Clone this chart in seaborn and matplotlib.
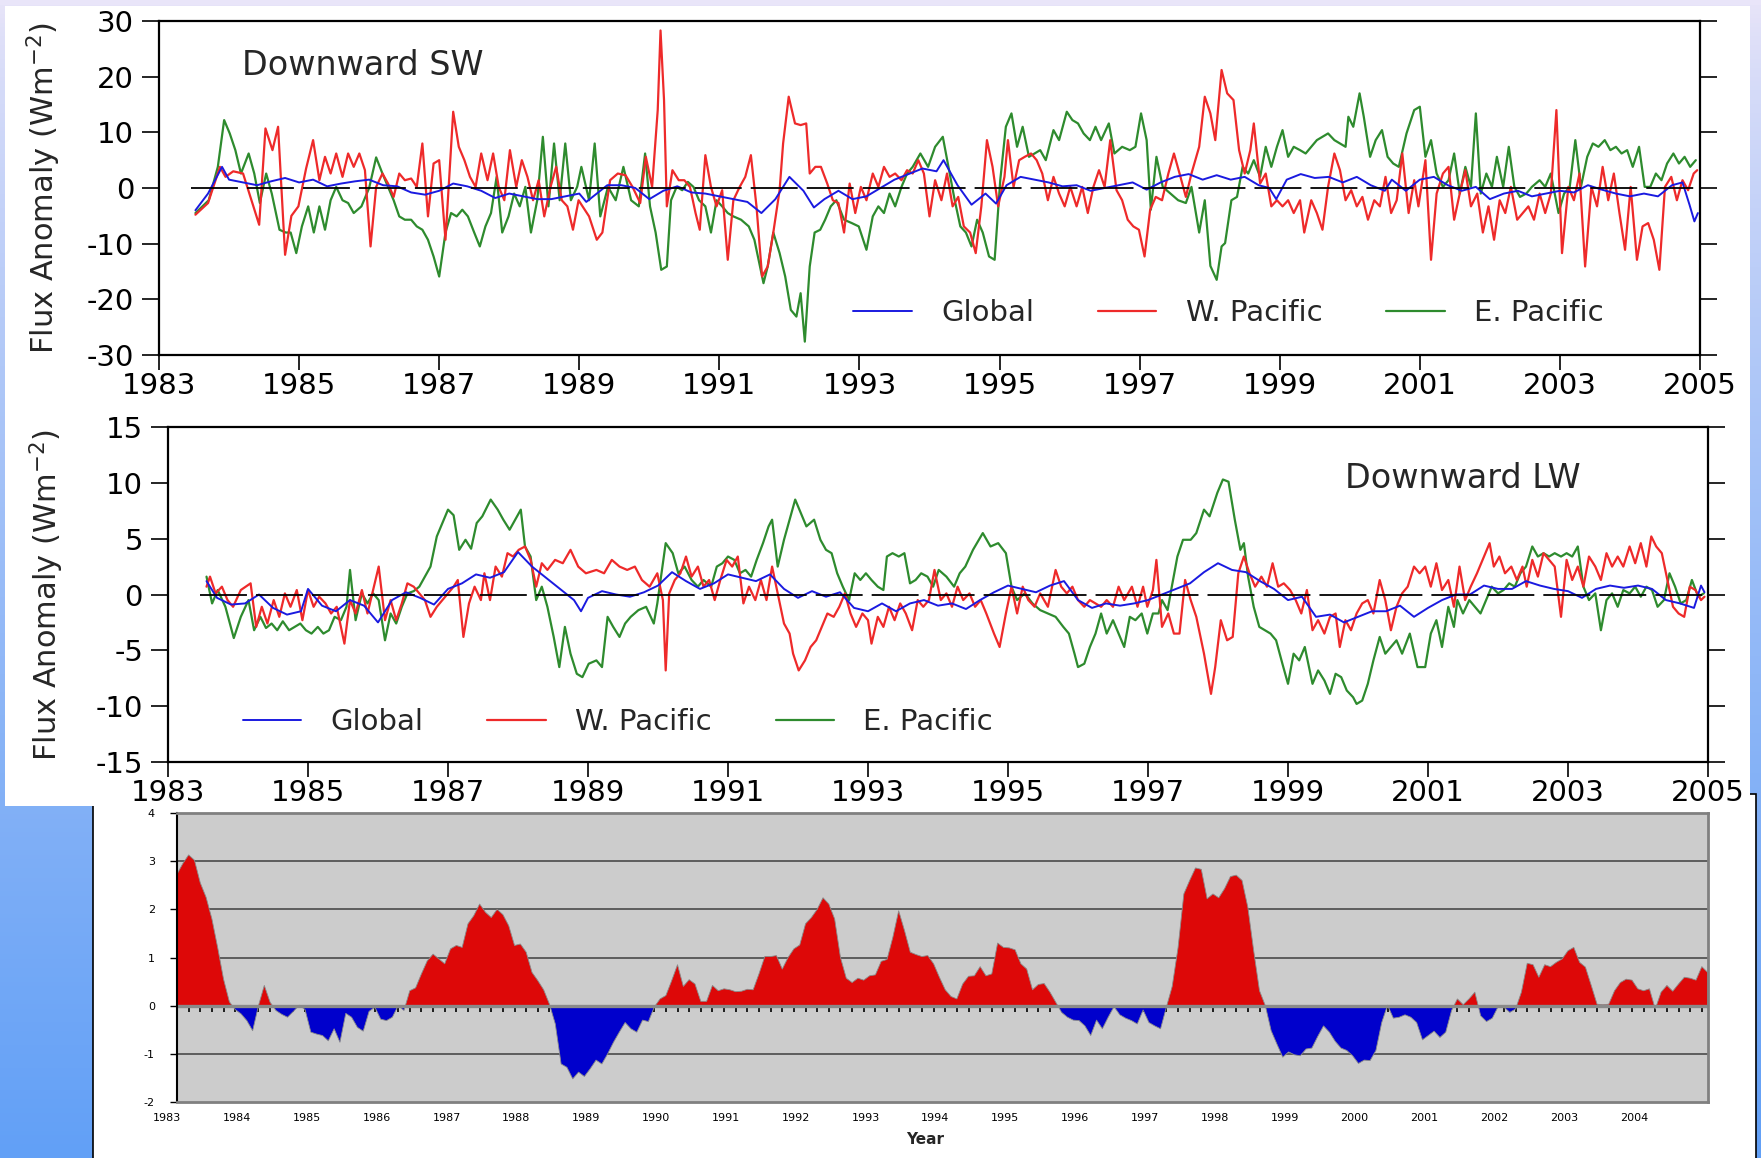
import numpy as np
import matplotlib
matplotlib.use("Agg")
import matplotlib.pyplot as plt
import seaborn as sns
from matplotlib.patches import Rectangle
from matplotlib.ticker import MultipleLocator
from matplotlib.transforms import blended_transform_factory

# ---------------- DATA ----------------
years_sw_ticks = list(range(1983, 2006, 2))
series_names = ["Global", "W. Pacific", "E. Pacific"]

# Downward SW flux anomaly (W m-2)
sw_glob_t = [1983.52, 1983.7, 1983.9, 1984.0, 1984.2, 1984.4, 1984.6, 1984.8, 1985.0, 1985.2, 1985.4, 1985.6, 1985.8,
             1986.0, 1986.2, 1986.4, 1986.6, 1986.8, 1987.0, 1987.2, 1987.4, 1987.6, 1987.8, 1988.0, 1988.2, 1988.4,
             1988.6, 1988.8, 1989.0, 1989.1, 1989.2, 1989.4, 1989.6, 1989.8, 1990.0, 1990.2, 1990.4, 1990.6, 1990.8,
             1991.0, 1991.2, 1991.4, 1991.6, 1991.8, 1992.0, 1992.2, 1992.35, 1992.5, 1992.7, 1992.9, 1993.1, 1993.3,
             1993.5, 1993.7, 1993.9, 1994.1, 1994.2, 1994.4, 1994.6, 1994.8, 1994.95, 1995.1, 1995.3, 1995.5, 1995.7,
             1995.9, 1996.1, 1996.3, 1996.5, 1996.7, 1996.9, 1997.1, 1997.3, 1997.5, 1997.7, 1997.9, 1998.1, 1998.3,
             1998.5, 1998.7, 1998.85, 1998.95, 1999.1, 1999.3, 1999.5, 1999.7, 1999.9, 2000.1, 2000.3, 2000.5, 2000.6,
             2000.8, 2001.0, 2001.2, 2001.4, 2001.6, 2001.8, 2002.0, 2002.2, 2002.4, 2002.6, 2002.8, 2003.0, 2003.2,
             2003.4, 2003.6, 2003.8, 2004.0, 2004.2, 2004.4, 2004.6, 2004.75, 2004.85, 2004.92, 2004.97]
sw_glob_v = [-4.0, -1.0, 3.8, 1.5, 1.0, 0.5, 1.2, 1.8, 1.0, 1.5, 0.3, 0.8, 1.2,
             1.5, 0.5, 0.3, -0.8, -1.2, -0.5, 0.8, 0.3, -0.5, -1.8, -1.0, -1.5, -2.0,
             -2.0, -1.5, -1.0, -2.5, -1.5, 0.5, 0.5, 0.0, -2.0, -0.5, 0.3, -0.8, -1.0,
             -1.5, -2.0, -2.5, -4.5, -2.0, 2.0, -0.5, -3.5, -2.0, -0.5, -2.0, -1.5, 0.0,
             1.5, 2.5, 3.5, 3.0, 5.0, 0.5, -3.0, -1.0, -2.8, 0.5, 2.0, 1.5, 1.0,
             0.3, 0.5, -0.5, 0.0, 0.5, 1.0, -0.3, 1.0, 2.0, 2.5, 1.5, 2.3, 1.5,
             2.0, 0.5, 0.0, -2.0, 1.5, 2.5, 1.8, 2.0, 1.0, 2.0, 0.5, -0.5, 1.5,
             -0.5, 1.5, 2.0, 0.5, -0.5, 0.2, -2.0, -1.0, -0.5, -1.5, -1.0, -0.5, -0.8,
             0.5, -0.3, -1.0, -1.5, -1.0, -1.5, 0.5, 1.0, -3.0, -6.0, -4.5]

sw_wpac_t = [1983.52, 1983.70, 1983.87, 1983.95, 1984.06, 1984.20, 1984.43, 1984.52, 1984.62, 1984.70, 1984.80, 1984.89,
             1984.99, 1985.10, 1985.20, 1985.29, 1985.37, 1985.45, 1985.53, 1985.62, 1985.70, 1985.78, 1985.86, 1985.94,
             1986.02, 1986.10, 1986.19, 1986.27, 1986.35, 1986.43, 1986.51, 1986.60, 1986.68, 1986.76, 1986.84, 1986.92,
             1987.00, 1987.09, 1987.20, 1987.28, 1987.36, 1987.44, 1987.52, 1987.60, 1987.69, 1987.77, 1987.85, 1987.93,
             1988.01, 1988.10, 1988.18, 1988.26, 1988.34, 1988.42, 1988.50, 1988.59, 1988.67, 1988.75, 1988.83, 1988.91,
             1988.99, 1989.14, 1989.25, 1989.33, 1989.44, 1989.55, 1989.66, 1989.76, 1989.87, 1989.95, 1990.04, 1990.12,
             1990.16, 1990.21, 1990.25, 1990.33, 1990.42, 1990.50, 1990.58, 1990.66, 1990.72, 1990.80, 1990.88, 1990.96,
             1991.04, 1991.12, 1991.20, 1991.29, 1991.37, 1991.45, 1991.53, 1991.61, 1991.69, 1991.77, 1991.86, 1991.91,
             1991.99, 1992.08, 1992.16, 1992.24, 1992.29, 1992.37, 1992.45, 1992.54, 1992.62, 1992.70, 1992.78, 1992.86,
             1992.94, 1993.02, 1993.10, 1993.19, 1993.27, 1993.35, 1993.43, 1993.51, 1993.60, 1993.68, 1993.76, 1993.84,
             1993.92, 1994.00, 1994.08, 1994.17, 1994.25, 1994.33, 1994.41, 1994.49, 1994.58, 1994.66, 1994.74, 1994.82,
             1994.90, 1994.98, 1995.07, 1995.12, 1995.20, 1995.28, 1995.36, 1995.45, 1995.53, 1995.61, 1995.69, 1995.77,
             1995.85, 1995.93, 1996.01, 1996.10, 1996.18, 1996.26, 1996.34, 1996.42, 1996.50, 1996.58, 1996.67, 1996.75,
             1996.83, 1996.91, 1996.99, 1997.07, 1997.15, 1997.23, 1997.32, 1997.41, 1997.49, 1997.57, 1997.66, 1997.74,
             1997.85, 1997.93, 1998.01, 1998.08, 1998.17, 1998.25, 1998.34, 1998.42, 1998.50, 1998.58, 1998.63, 1998.72,
             1998.80, 1998.88, 1998.96, 1999.04, 1999.12, 1999.20, 1999.29, 1999.35, 1999.45, 1999.53, 1999.61, 1999.69,
             1999.78, 1999.86, 1999.94, 2000.02, 2000.10, 2000.18, 2000.26, 2000.35, 2000.43, 2000.51, 2000.59, 2000.67,
             2000.75, 2000.84, 2000.92, 2000.98, 2001.08, 2001.16, 2001.24, 2001.33, 2001.41, 2001.49, 2001.57, 2001.65,
             2001.73, 2001.82, 2001.90, 2001.98, 2002.06, 2002.14, 2002.22, 2002.30, 2002.39, 2002.47, 2002.55, 2002.63,
             2002.71, 2002.79, 2002.87, 2002.95, 2003.03, 2003.12, 2003.20, 2003.28, 2003.36, 2003.45, 2003.53, 2003.61,
             2003.69, 2003.77, 2003.85, 2003.93, 2004.01, 2004.10, 2004.18, 2004.26, 2004.34, 2004.42, 2004.50, 2004.59,
             2004.67, 2004.75, 2004.83, 2004.91, 2004.96]
sw_wpac_v = [-4.8, -2.7, 3.8, 2.0, 3.0, 2.6, -6.6, 10.7, 6.8, 11.0, -12.0, -5.0,
             -3.3, 3.5, 8.6, 1.4, 5.6, 2.6, 6.2, 2.0, 6.2, 3.8, 6.2, 3.2,
             -10.5, 0.2, 2.6, 0.8, -1.6, 2.6, 1.4, 1.7, 0.2, 8.0, -5.1, 4.4,
             5.0, -9.3, 13.7, 7.4, 5.0, 2.0, 0.2, 6.2, 1.4, 6.2, 0.2, -2.2,
             6.8, 0.2, 5.0, 2.0, -2.2, 1.4, -5.1, 0.2, 3.8, -2.2, -3.3, -7.5,
             -2.2, -5.1, -9.3, -8.0, 1.4, 2.6, 2.3, 0.2, -2.7, 5.6, 0.2, 14.0,
             28.3, 15.8, -3.3, 3.2, 1.4, 1.4, 0.2, -4.5, -7.5, 5.9, 0.2, -3.3,
             -0.4, -12.9, -2.2, 0.2, 2.0, 5.9, -3.3, -15.9, -14.1, -8.0, -0.4, 8.0,
             16.4, 11.6, 11.3, 11.6, 2.6, 3.8, 3.8, 0.8, -2.2, -2.7, -8.0, 0.8,
             -4.5, 0.2, -2.2, 2.6, 0.2, 3.8, 2.0, 2.6, 1.4, 3.2, 2.6, 5.0,
             2.6, -5.1, 1.4, -2.2, 2.6, -3.3, -1.6, -6.9, -8.0, -11.7, -3.3, 8.6,
             3.8, -3.3, 2.0, 8.6, 0.2, 5.0, 5.6, 6.2, 5.0, 2.6, -2.2, 2.0,
             -1.0, -3.3, 0.2, -3.3, 0.2, -4.5, 0.2, 3.2, 0.2, 8.6, -0.4, -2.2,
             -5.7, -6.9, -7.5, -12.3, -3.9, -1.6, -2.2, 2.6, 6.2, 2.6, -1.6, 2.6,
             7.4, 16.4, 13.4, 8.6, 21.2, 17.0, 15.8, 6.8, 2.6, 6.8, 11.6, 0.8,
             2.6, -3.3, -2.2, -3.3, -2.2, -4.5, -2.2, -8.0, -2.2, -4.5, -7.5, 0.2,
             6.2, 3.2, -2.2, -0.4, -3.3, -1.6, -5.7, -2.2, -3.3, 2.0, -4.5, -2.2,
             6.2, -4.5, 1.4, -3.3, 5.0, -12.9, -1.0, 2.6, 3.8, -5.7, -1.0, 3.2,
             -3.3, -1.0, -8.0, -3.3, -9.3, -2.2, -4.5, 0.2, -5.7, -4.5, -3.3, -5.7,
             -1.0, -4.5, -1.0, 14.0, -11.7, 0.2, -2.2, 2.6, -14.1, 0.2, -3.3, 3.8,
             -2.2, 2.6, -4.5, -11.1, 0.2, -12.9, -6.9, -6.3, -9.3, -14.7, 0.2, 2.0,
             -2.2, 1.4, -0.4, 2.6, 3.2]

sw_epac_t = [1983.52, 1983.71, 1983.84, 1983.93, 1984.01, 1984.09, 1984.17, 1984.28, 1984.36, 1984.44, 1984.53, 1984.61,
             1984.72, 1984.81, 1984.88, 1984.96, 1985.04, 1985.13, 1985.21, 1985.29, 1985.37, 1985.45, 1985.53, 1985.62,
             1985.70, 1985.78, 1985.89, 1986.00, 1986.10, 1986.19, 1986.27, 1986.35, 1986.43, 1986.51, 1986.60, 1986.68,
             1986.76, 1986.84, 1986.92, 1987.00, 1987.09, 1987.17, 1987.25, 1987.33, 1987.41, 1987.50, 1987.58, 1987.66,
             1987.74, 1987.82, 1987.90, 1987.99, 1988.07, 1988.15, 1988.23, 1988.31, 1988.40, 1988.48, 1988.56, 1988.64,
             1988.72, 1988.80, 1988.88, 1988.97, 1989.03, 1989.14, 1989.22, 1989.30, 1989.41, 1989.52, 1989.63, 1989.74,
             1989.85, 1989.94, 1990.01, 1990.09, 1990.17, 1990.25, 1990.31, 1990.39, 1990.47, 1990.55, 1990.63, 1990.71,
             1990.80, 1990.88, 1990.96, 1991.04, 1991.12, 1991.20, 1991.31, 1991.42, 1991.50, 1991.58, 1991.63, 1991.69,
             1991.77, 1991.86, 1991.94, 1992.02, 1992.10, 1992.16, 1992.22, 1992.29, 1992.36, 1992.44, 1992.51, 1992.59,
             1992.67, 1992.78, 1992.89, 1992.99, 1993.10, 1993.19, 1993.27, 1993.35, 1993.43, 1993.51, 1993.60, 1993.68,
             1993.76, 1993.87, 1993.98, 1994.08, 1994.19, 1994.27, 1994.36, 1994.44, 1994.52, 1994.60, 1994.68, 1994.76,
             1994.85, 1994.93, 1995.01, 1995.09, 1995.17, 1995.25, 1995.33, 1995.42, 1995.50, 1995.58, 1995.66, 1995.77,
             1995.85, 1995.96, 1996.04, 1996.12, 1996.20, 1996.29, 1996.37, 1996.45, 1996.56, 1996.64, 1996.75, 1996.86,
             1996.94, 1997.02, 1997.10, 1997.16, 1997.24, 1997.33, 1997.44, 1997.55, 1997.66, 1997.74, 1997.85, 1997.93,
             1998.01, 1998.10, 1998.17, 1998.22, 1998.31, 1998.39, 1998.47, 1998.55, 1998.63, 1998.72, 1998.80, 1998.88,
             1998.96, 1999.04, 1999.12, 1999.20, 1999.29, 1999.37, 1999.45, 1999.53, 1999.61, 1999.69, 1999.78, 1999.86,
             1999.94, 1999.98, 2000.05, 2000.14, 2000.20, 2000.29, 2000.37, 2000.46, 2000.54, 2000.62, 2000.70, 2000.81,
             2000.92, 2001.00, 2001.08, 2001.16, 2001.24, 2001.33, 2001.41, 2001.49, 2001.57, 2001.65, 2001.73, 2001.80,
             2001.87, 2001.95, 2002.03, 2002.10, 2002.19, 2002.27, 2002.35, 2002.43, 2002.52, 2002.60, 2002.71, 2002.79,
             2002.87, 2002.98, 2003.06, 2003.14, 2003.22, 2003.30, 2003.39, 2003.47, 2003.55, 2003.64, 2003.72, 2003.80,
             2003.88, 2003.96, 2004.04, 2004.13, 2004.21, 2004.29, 2004.37, 2004.45, 2004.53, 2004.62, 2004.70, 2004.78,
             2004.86, 2004.94]
sw_epac_v = [-4.5, -2.2, 3.8, 12.2, 9.8, 6.8, 2.6, 6.2, 2.6, -2.7, 2.6, -1.0,
             -7.5, -8.0, -8.0, -11.7, -6.9, -3.3, -8.0, -3.3, -7.5, -2.2, 0.2, -2.2,
             -2.7, -4.5, -3.3, 0.0, 5.5, 2.6, 0.2, -2.2, -5.1, -5.7, -5.7, -6.9,
             -7.5, -9.3, -12.3, -15.9, -8.0, -4.5, -5.1, -3.9, -5.1, -8.0, -10.5, -6.9,
             -4.5, 2.0, -8.0, -5.1, -1.0, -3.3, 0.2, -8.0, -2.2, 9.2, -3.3, 8.0,
             -2.2, 8.0, -2.2, 0.2, 3.8, -2.2, 8.0, -5.1, 0.2, -2.2, 3.8, -2.2,
             -3.3, 6.2, -3.3, -8.0, -14.7, -14.1, -2.2, 0.2, -0.4, 1.1, 0.2, -2.2,
             -3.3, -8.0, -2.2, -3.3, -4.5, -5.1, -5.7, -6.9, -9.3, -14.1, -17.1, -14.1,
             -8.0, -11.7, -15.9, -21.9, -23.1, -18.9, -27.6, -14.1, -8.0, -7.5, -5.7, -3.3,
             -2.2, -5.7, -6.3, -6.9, -11.1, -5.1, -3.3, -4.5, -1.0, -3.3, 0.2, 2.6,
             3.8, 6.2, 3.8, 7.4, 9.2, 3.8, -2.2, -6.9, -8.0, -10.5, -5.7, -8.0,
             -12.3, -12.9, 1.4, 11.0, 13.4, 7.4, 11.0, 5.6, 6.2, 6.8, 5.0, 10.4,
             8.6, 13.7, 12.2, 11.6, 9.8, 8.6, 11.0, 8.6, 11.6, 6.2, 7.4, 6.8,
             7.4, 13.4, 8.6, -3.9, 5.6, 0.2, -1.0, -2.2, -2.7, 0.2, -8.0, -2.2,
             -14.0, -16.5, -10.5, -9.9, -2.2, -1.6, 3.8, 2.6, 5.0, 2.0, 7.4, 3.8,
             7.4, 10.4, 5.6, 7.4, 6.8, 6.2, 7.4, 8.6, 9.2, 9.8, 8.6, 8.0,
             7.4, 12.8, 11.0, 17.0, 12.8, 5.6, 8.6, 10.4, 5.6, 4.4, 3.8, 9.8,
             14.0, 14.6, 5.6, 8.6, 2.6, 0.2, 1.4, 6.2, -1.0, 3.8, 0.2, 13.4,
             -1.0, 2.6, 0.2, 5.6, 0.2, 7.4, 0.2, -1.6, -1.0, 0.2, 1.4, 0.2,
             2.6, -4.5, -1.0, 0.2, 8.6, 0.2, 5.6, 8.0, 7.4, 8.6, 6.8, 7.4,
             6.2, 6.8, 3.8, 7.4, 0.2, 0.2, 2.6, 1.4, 4.4, 6.2, 4.4, 5.6,
             3.8, 5.0]

# Downward LW flux anomaly (W m-2)
lw_glob_t = [1983.55, 1983.7, 1983.9, 1984.1, 1984.3, 1984.5, 1984.7, 1984.9, 1985.0, 1985.2, 1985.4, 1985.6, 1985.8,
             1986.0, 1986.2, 1986.4, 1986.6, 1986.8, 1987.0, 1987.2, 1987.4, 1987.6, 1987.8, 1988.0, 1988.2, 1988.4,
             1988.6, 1988.8, 1988.9, 1989.0, 1989.2, 1989.4, 1989.6, 1989.8, 1990.0, 1990.2, 1990.4, 1990.6, 1990.8,
             1991.0, 1991.2, 1991.4, 1991.6, 1991.8, 1992.0, 1992.2, 1992.4, 1992.6, 1992.8, 1993.0, 1993.2, 1993.4,
             1993.6, 1993.8, 1994.0, 1994.2, 1994.4, 1994.6, 1994.8, 1995.0, 1995.2, 1995.4, 1995.6, 1995.8, 1996.0,
             1996.2, 1996.4, 1996.6, 1996.8, 1997.0, 1997.2, 1997.4, 1997.6, 1997.8, 1998.0, 1998.2, 1998.4, 1998.6,
             1998.8, 1999.0, 1999.2, 1999.4, 1999.6, 1999.8, 2000.0, 2000.2, 2000.4, 2000.6, 2000.8, 2001.0, 2001.2,
             2001.4, 2001.6, 2001.8, 2002.0, 2002.2, 2002.4, 2002.6, 2002.8, 2003.0, 2003.2, 2003.4, 2003.6, 2003.8,
             2004.0, 2004.2, 2004.4, 2004.6, 2004.8, 2004.9, 2004.95]
lw_glob_v = [1.2, -0.3, -0.9, -0.8, 0.0, -1.2, -1.8, -1.5, 0.5, -1.0, -1.5, -0.5, -1.0,
             -2.5, -0.5, 0.2, -0.3, -0.9, 0.5, 1.0, 1.8, 1.5, 2.0, 3.8, 2.5, 1.5,
             0.5, -0.5, -1.5, -0.3, 0.3, 0.0, -0.2, 0.2, 0.8, 2.0, 1.2, 0.5, 1.0,
             1.8, 1.5, 1.2, 1.8, 0.5, -0.3, 0.3, -0.2, 0.2, -1.2, -1.5, -0.8, -1.5,
             -0.8, -0.5, -1.0, -0.8, -1.3, -0.5, 0.2, 0.8, 0.5, 0.2, 0.8, 1.2, -0.5,
             -1.2, -0.8, -1.0, -0.8, -0.5, 0.0, 0.5, 1.0, 2.0, 2.8, 2.2, 2.0, 1.2,
             0.5, -0.5, -0.2, -2.0, -1.8, -2.5, -2.0, -1.5, -1.5, -1.0, -2.0, -1.2, -0.5,
             0.0, 0.0, 0.8, 0.5, 0.5, 1.2, 0.8, 0.5, 0.3, -0.3, 0.5, 0.8, 0.6,
             0.8, 0.5, -0.5, -0.8, -1.2, 0.8, 0.2]

lw_wpac_t = [1983.55, 1983.60, 1983.68, 1983.77, 1983.85, 1983.93, 1984.04, 1984.18, 1984.26, 1984.34, 1984.42, 1984.51,
             1984.59, 1984.67, 1984.75, 1984.84, 1984.92, 1985.00, 1985.08, 1985.16, 1985.25, 1985.33, 1985.41, 1985.52,
             1985.60, 1985.68, 1985.77, 1985.85, 1985.93, 1986.01, 1986.10, 1986.18, 1986.26, 1986.34, 1986.42, 1986.51,
             1986.59, 1986.67, 1986.75, 1986.84, 1986.92, 1987.00, 1987.08, 1987.14, 1987.22, 1987.30, 1987.38, 1987.47,
             1987.52, 1987.60, 1987.68, 1987.77, 1987.85, 1987.93, 1988.01, 1988.10, 1988.18, 1988.26, 1988.34, 1988.42,
             1988.53, 1988.64, 1988.75, 1988.86, 1988.97, 1989.12, 1989.23, 1989.34, 1989.45, 1989.56, 1989.67, 1989.77,
             1989.88, 1989.99, 1990.07, 1990.11, 1990.16, 1990.24, 1990.32, 1990.40, 1990.48, 1990.57, 1990.65, 1990.73,
             1990.81, 1990.89, 1990.98, 1991.06, 1991.14, 1991.22, 1991.30, 1991.39, 1991.47, 1991.55, 1991.63, 1991.71,
             1991.80, 1991.88, 1991.93, 1992.01, 1992.10, 1992.18, 1992.26, 1992.34, 1992.42, 1992.51, 1992.59, 1992.67,
             1992.75, 1992.83, 1992.92, 1993.00, 1993.05, 1993.14, 1993.22, 1993.30, 1993.38, 1993.46, 1993.54, 1993.63,
             1993.71, 1993.79, 1993.87, 1993.95, 1994.04, 1994.12, 1994.20, 1994.28, 1994.36, 1994.45, 1994.53, 1994.61,
             1994.69, 1994.80, 1994.88, 1994.97, 1995.05, 1995.13, 1995.21, 1995.29, 1995.38, 1995.46, 1995.57, 1995.68,
             1995.76, 1995.84, 1995.92, 1996.00, 1996.09, 1996.17, 1996.25, 1996.33, 1996.41, 1996.50, 1996.58, 1996.66,
             1996.77, 1996.85, 1996.93, 1996.99, 1997.07, 1997.12, 1997.20, 1997.29, 1997.37, 1997.45, 1997.53, 1997.61,
             1997.69, 1997.80, 1997.90, 1997.96, 1998.04, 1998.13, 1998.21, 1998.29, 1998.37, 1998.45, 1998.53, 1998.62,
             1998.70, 1998.78, 1998.86, 1998.94, 1999.03, 1999.11, 1999.19, 1999.27, 1999.35, 1999.43, 1999.52, 1999.60,
             1999.68, 1999.74, 1999.82, 1999.90, 1999.98, 2000.06, 2000.14, 2000.22, 2000.31, 2000.39, 2000.47, 2000.55,
             2000.63, 2000.71, 2000.80, 2000.88, 2000.96, 2001.04, 2001.12, 2001.20, 2001.29, 2001.37, 2001.45, 2001.53,
             2001.61, 2001.70, 2001.78, 2001.88, 2001.94, 2002.02, 2002.10, 2002.19, 2002.27, 2002.35, 2002.41, 2002.49,
             2002.57, 2002.65, 2002.73, 2002.81, 2002.90, 2002.98, 2003.06, 2003.14, 2003.22, 2003.30, 2003.39, 2003.47,
             2003.55, 2003.63, 2003.71, 2003.79, 2003.88, 2003.96, 2004.04, 2004.12, 2004.19, 2004.26, 2004.34, 2004.42,
             2004.50, 2004.58, 2004.66, 2004.74, 2004.82, 2004.90, 2004.95]
lw_wpac_v = [0.7, 1.6, 0.1, 0.7, -0.5, -1.1, 0.4, 1.0, -2.9, -1.1, -2.6, -0.5,
             -2.0, 0.1, -1.1, 0.4, -2.3, 0.4, -1.1, -0.2, -0.8, -1.7, -1.1, -4.4,
             -0.5, -1.7, 0.4, -1.7, 0.4, 2.5, -2.3, -0.5, -2.3, -0.8, 1.0, 0.7,
             0.1, -0.5, -2.0, -1.1, -0.5, 0.1, 0.7, 1.3, -3.8, -0.8, 0.7, -0.5,
             1.9, -0.5, 2.5, 1.6, 3.7, 3.4, 4.0, 4.3, 3.1, 0.7, 2.8, 2.2,
             3.1, 2.8, 4.0, 2.5, 1.9, 2.2, 1.9, 3.1, 2.5, 2.2, 2.5, 1.3,
             0.7, 1.9, -0.5, -6.8, 0.1, 1.3, 1.9, 3.4, 1.6, 2.5, 0.7, 1.3,
             -0.5, 1.3, 3.1, 2.5, 3.4, -0.8, 0.7, -0.5, 1.3, -0.5, 2.5, 0.1,
             -2.6, -3.5, -5.3, -6.8, -5.9, -4.7, -4.1, -2.9, -1.7, -2.0, -1.1, 0.1,
             -1.7, -2.9, -1.7, -2.3, -4.4, -2.0, -2.9, -1.1, -2.3, -0.8, -1.7, -3.2,
             -0.5, -1.1, -0.5, 2.2, -0.5, 0.1, -1.1, 0.7, -0.5, 0.1, -1.1, -0.5,
             -1.7, -3.5, -4.7, -1.7, 0.7, -1.7, 0.7, -0.5, -1.1, 0.1, -1.1, 2.2,
             0.7, 0.1, 0.7, -0.5, -1.1, -0.5, -0.8, -1.1, -0.5, -1.1, 0.7, -0.5,
             0.7, -1.1, 0.7, -1.1, 0.4, 3.1, -2.9, -1.7, -3.5, -3.5, 1.3, -0.5,
             -2.0, -5.3, -8.9, -6.5, -2.3, -4.1, -3.8, 1.9, 3.4, 1.9, 0.7, 1.6,
             0.7, 2.8, 0.7, 1.0, 0.4, -0.5, -1.7, 0.4, -3.2, -2.3, -3.5, -2.0,
             -1.7, -4.7, -2.3, -3.2, -1.7, -0.8, -0.5, -1.7, 1.3, -0.5, -3.2, -1.1,
             0.1, 0.7, 2.5, 1.9, 2.5, 0.7, 2.8, 0.4, 1.3, -1.1, 2.5, -0.5,
             0.7, 1.9, 3.1, 4.6, 2.5, 3.4, 1.9, 2.5, 1.3, 2.5, 0.7, 3.1,
             1.6, 3.7, 3.1, 2.5, -2.0, 3.1, 1.3, 2.5, 0.7, 3.4, 2.5, 1.3,
             3.7, 2.5, 3.4, 2.5, 4.3, 2.8, 4.6, 2.5, 5.2, 4.3, 3.7, 1.3,
             -1.1, -1.7, -2.0, 0.7, 0.4, -0.5, -0.2]

lw_epac_t = [1983.55, 1983.63, 1983.71, 1983.82, 1983.94, 1984.04, 1984.15, 1984.23, 1984.32, 1984.40, 1984.48, 1984.56,
             1984.64, 1984.73, 1984.81, 1984.89, 1984.97, 1985.05, 1985.14, 1985.22, 1985.30, 1985.38, 1985.47, 1985.55,
             1985.60, 1985.68, 1985.77, 1985.85, 1985.93, 1986.01, 1986.10, 1986.18, 1986.26, 1986.34, 1986.42, 1986.51,
             1986.59, 1986.67, 1986.75, 1986.84, 1986.92, 1987.00, 1987.08, 1987.16, 1987.25, 1987.33, 1987.41, 1987.49,
             1987.61, 1987.71, 1987.79, 1987.88, 1987.96, 1988.04, 1988.10, 1988.18, 1988.26, 1988.34, 1988.42, 1988.51,
             1988.59, 1988.67, 1988.75, 1988.84, 1988.92, 1989.01, 1989.12, 1989.20, 1989.28, 1989.36, 1989.45, 1989.53,
             1989.61, 1989.72, 1989.83, 1989.94, 1989.99, 1990.11, 1990.21, 1990.29, 1990.38, 1990.48, 1990.57, 1990.65,
             1990.76, 1990.84, 1990.92, 1991.00, 1991.09, 1991.17, 1991.25, 1991.33, 1991.41, 1991.50, 1991.58, 1991.63,
             1991.71, 1991.80, 1991.88, 1991.96, 1992.04, 1992.12, 1992.23, 1992.32, 1992.40, 1992.48, 1992.56, 1992.64,
             1992.73, 1992.81, 1992.89, 1992.97, 1993.05, 1993.14, 1993.22, 1993.27, 1993.35, 1993.44, 1993.52, 1993.60,
             1993.68, 1993.76, 1993.85, 1993.93, 1994.01, 1994.12, 1994.23, 1994.31, 1994.39, 1994.50, 1994.64, 1994.75,
             1994.86, 1994.97, 1995.05, 1995.13, 1995.24, 1995.35, 1995.46, 1995.57, 1995.68, 1995.79, 1995.87, 1995.95,
             1996.00, 1996.09, 1996.17, 1996.25, 1996.33, 1996.41, 1996.50, 1996.58, 1996.66, 1996.74, 1996.82, 1996.91,
             1996.99, 1997.07, 1997.15, 1997.20, 1997.28, 1997.34, 1997.42, 1997.50, 1997.61, 1997.69, 1997.80, 1997.88,
             1997.99, 1998.07, 1998.15, 1998.24, 1998.32, 1998.37, 1998.43, 1998.51, 1998.59, 1998.67, 1998.75, 1998.83,
             1998.92, 1999.00, 1999.08, 1999.16, 1999.24, 1999.35, 1999.43, 1999.52, 1999.60, 1999.68, 1999.76, 1999.84,
             1999.93, 1999.98, 2000.06, 2000.14, 2000.22, 2000.31, 2000.39, 2000.47, 2000.55, 2000.63, 2000.74, 2000.85,
             2000.96, 2001.04, 2001.12, 2001.20, 2001.29, 2001.37, 2001.42, 2001.50, 2001.59, 2001.67, 2001.75, 2001.83,
             2001.91, 2002.00, 2002.08, 2002.16, 2002.24, 2002.32, 2002.40, 2002.49, 2002.57, 2002.65, 2002.73, 2002.81,
             2002.90, 2002.98, 2003.06, 2003.14, 2003.22, 2003.30, 2003.39, 2003.47, 2003.55, 2003.63, 2003.71, 2003.79,
             2003.88, 2003.96, 2004.04, 2004.12, 2004.20, 2004.28, 2004.37, 2004.45, 2004.53, 2004.61, 2004.69, 2004.77,
             2004.86, 2004.94]
lw_epac_v = [1.6, -0.8, 0.4, -1.1, -3.9, -2.0, -0.5, -3.2, -2.0, -3.0, -2.6, -3.2,
             -2.4, -3.2, -2.9, -2.6, -3.2, -3.5, -2.9, -3.5, -3.2, -2.0, -2.3, -1.1,
             2.2, -2.3, 0.1, -0.8, 0.1, -0.5, -4.1, -1.7, -2.6, -1.1, 0.1, 0.3,
             0.7, 1.6, 2.5, 5.2, 6.4, 7.6, 7.1, 4.0, 4.9, 4.1, 6.4, 7.0,
             8.5, 7.6, 6.7, 5.8, 6.7, 7.6, 4.3, 3.4, -0.5, 0.7, -1.1, -3.8,
             -6.5, -2.9, -5.3, -7.1, -7.4, -6.2, -5.9, -6.5, -2.0, -2.9, -3.8, -2.6,
             -2.0, -1.4, -1.1, -2.6, -0.8, 4.6, 3.7, 1.9, 2.5, 1.3, 0.7, 1.3,
             0.7, 2.5, 2.8, 3.4, 3.1, 1.9, 2.2, 1.6, 3.1, 4.6, 6.1, 6.7,
             2.5, 4.9, 6.7, 8.5, 7.3, 6.1, 6.7, 4.9, 4.0, 3.7, 1.9, 0.7,
             -0.5, 1.9, 1.3, 1.9, 1.3, 0.7, 0.4, 3.4, 3.7, 3.4, 3.7, 1.0,
             1.3, 1.9, 1.6, 0.7, 2.2, 1.6, 0.7, 1.9, 2.5, 4.0, 5.5, 4.3,
             4.6, 3.7, 0.7, -0.5, 0.1, -0.8, -1.4, -1.7, -2.0, -2.9, -3.5, -5.3,
             -6.5, -6.2, -4.7, -3.5, -1.7, -3.5, -2.3, -3.5, -4.7, -2.0, -2.3, -1.7,
             -3.5, -1.7, -1.7, -0.5, -1.4, 0.7, 3.4, 4.9, 4.9, 5.5, 7.6, 7.0,
             9.1, 10.3, 10.1, 6.7, 4.0, 4.6, 1.6, -1.1, -2.9, -3.2, -3.5, -4.1,
             -6.2, -8.0, -5.3, -5.9, -4.7, -8.0, -6.8, -7.7, -8.9, -7.1, -7.4, -8.6,
             -9.2, -9.8, -9.5, -8.0, -5.9, -3.8, -5.3, -4.7, -4.1, -5.3, -3.5, -6.5,
             -6.5, -3.5, -2.3, -4.7, -1.1, -2.9, -0.5, -1.7, -0.5, -1.1, -1.7, -0.5,
             0.7, 0.1, 0.4, 1.0, 0.7, 1.9, 2.5, 4.3, 3.4, 3.7, 3.4, 3.7,
             3.4, 3.7, 3.4, 4.3, 0.7, -0.5, 0.1, -3.2, -0.5, 0.1, -1.1, 0.4,
             0.1, 0.7, -0.2, 0.7, 0.4, -1.1, -0.5, 1.9, 0.7, -0.8, -0.5, 1.3,
             -0.2, 0.1]

# Multivariate ENSO index, monthly Jan 1983 - Dec 2004
mei_start_year = 1983
mei_label_years = list(range(1983, 2005))
mei_values = [2.73, 2.95, 3.13, 3.02, 2.55, 2.25, 1.80, 1.20, 0.55, 0.08, -0.08, -0.17,
              -0.31, -0.52, 0.00, 0.42, 0.07, -0.10, -0.18, -0.24, -0.12, 0.01, -0.08, -0.55,
              -0.59, -0.62, -0.73, -0.48, -0.76, -0.16, -0.24, -0.45, -0.53, -0.12, -0.03, -0.28,
              -0.31, -0.24, 0.00, -0.10, 0.31, 0.37, 0.66, 0.93, 1.07, 0.97, 0.87, 1.18,
              1.25, 1.21, 1.70, 1.87, 2.11, 1.94, 1.83, 2.00, 1.89, 1.66, 1.25, 1.28,
              1.11, 0.69, 0.52, 0.33, 0.03, -0.38, -1.21, -1.28, -1.52, -1.38, -1.47, -1.31,
              -1.13, -1.21, -1.00, -0.76, -0.55, -0.35, -0.48, -0.55, -0.30, -0.33, -0.03, 0.14,
              0.21, 0.52, 0.85, 0.40, 0.54, 0.45, 0.09, 0.09, 0.42, 0.31, 0.35, 0.33,
              0.29, 0.30, 0.34, 0.33, 0.66, 1.02, 1.02, 1.04, 0.76, 1.00, 1.18, 1.26,
              1.70, 1.83, 2.00, 2.24, 2.11, 1.80, 1.00, 0.57, 0.48, 0.57, 0.53, 0.62,
              0.64, 0.92, 0.96, 1.42, 1.97, 1.56, 1.11, 1.06, 1.02, 1.04, 0.87, 0.59,
              0.33, 0.19, 0.14, 0.45, 0.61, 0.62, 0.81, 0.62, 0.66, 1.30, 1.21, 1.20,
              1.16, 0.87, 0.76, 0.33, 0.44, 0.46, 0.28, 0.07, -0.14, -0.24, -0.30, -0.31,
              -0.42, -0.62, -0.30, -0.48, -0.24, -0.02, -0.19, -0.26, -0.31, -0.38, -0.09, -0.35,
              -0.42, -0.48, -0.03, 0.40, 1.20, 2.32, 2.60, 2.86, 2.83, 2.22, 2.32, 2.24,
              2.43, 2.68, 2.71, 2.60, 2.04, 1.14, 0.31, 0.00, -0.52, -0.80, -1.07, -0.96,
              -1.02, -1.04, -0.90, -0.88, -0.64, -0.42, -0.55, -0.74, -0.88, -0.93, -1.04, -1.20,
              -1.13, -1.14, -0.93, -0.35, 0.01, -0.26, -0.24, -0.19, -0.24, -0.35, -0.71, -0.62,
              -0.53, -0.66, -0.55, -0.10, 0.14, 0.02, 0.14, 0.28, -0.21, -0.33, -0.26, -0.02,
              -0.03, -0.14, -0.07, 0.28, 0.88, 0.85, 0.59, 0.85, 0.81, 0.90, 0.97, 1.14,
              1.21, 0.90, 0.80, 0.42, 0.03, 0.02, 0.03, 0.31, 0.48, 0.55, 0.53, 0.35,
              0.31, 0.35, -0.07, 0.28, 0.42, 0.30, 0.45, 0.59, 0.57, 0.53, 0.81, 0.69]

# ---------------- STYLE ----------------
C_GLOB, C_WPAC, C_EPAC = "#1a1ae0", "#ee2a2a", "#2e8b2e"
C_POS, C_NEG = "#dd0808", "#0000cc"

sns.set_theme(style="white")
plt.rcParams["font.family"] = ["DejaVu Sans"]
plt.rcParams["axes.unicode_minus"] = False

W, H = 1761, 1158
fig = plt.figure(figsize=(W / 100, H / 100), dpi=100)


def rect_px(x0, y0, x1, y1):
    return [x0 / W, 1 - y1 / H, (x1 - x0) / W, (y1 - y0) / H]


# slide background gradient
bg = fig.add_axes([0, 0, 1, 1], zorder=-10)
top_c = np.array([233, 229, 249]) / 255.0
bot_c = np.array([98, 160, 246]) / 255.0
g = (np.linspace(0, 1, 256) ** 0.75)[:, None, None]
img = top_c[None, None, :] * (1 - g) + bot_c[None, None, :] * g
bg.imshow(img, aspect="auto", extent=[0, 1, 0, 1], origin="upper")
bg.set_axis_off()

# white panels
r = rect_px(93, 794, 1756, 1160)
fig.add_artist(Rectangle((r[0], r[1]), r[2], r[3], transform=fig.transFigure,
                         facecolor="white", edgecolor="black", lw=1.2, zorder=-6))
r = rect_px(5, 6, 1750, 806)
fig.add_artist(Rectangle((r[0], r[1]), r[2], r[3], transform=fig.transFigure,
                         facecolor="white", edgecolor="none", zorder=-5))

ax1 = fig.add_axes(rect_px(159, 21, 1700, 355))
ax2 = fig.add_axes(rect_px(168, 427, 1708, 762))
ax3 = fig.add_axes(rect_px(177, 813, 1708, 1102))


def style_flux(ax, lo, hi, step):
    ax.set_xlim(1983, 2005)
    ax.set_ylim(lo, hi)
    ax.set_xticks(years_sw_ticks)
    ax.set_yticks(list(range(lo, hi + 1, step)))
    ax.set_facecolor("white")
    for s in ax.spines.values():
        s.set_visible(True)
        s.set_color("black")
        s.set_linewidth(1.6)
    ax.tick_params(axis="x", bottom=True, top=False, direction="out", length=11, width=1.2,
                   labelsize=21, pad=1, colors="black")
    ax.tick_params(axis="y", left=True, right=True, labelleft=True, labelright=False,
                   direction="out", length=12, width=1.2, labelsize=21, pad=6, colors="black")
    ax.set_xlabel("")


def draw_flux(ax, glob, wpac, epac):
    sns.lineplot(x=epac[0], y=epac[1], ax=ax, color=C_EPAC, lw=1.6, label=series_names[2],
                 estimator=None, sort=False, zorder=2)
    sns.lineplot(x=wpac[0], y=wpac[1], ax=ax, color=C_WPAC, lw=1.6, label=series_names[1],
                 estimator=None, sort=False, zorder=2.1)
    sns.lineplot(x=glob[0], y=glob[1], ax=ax, color=C_GLOB, lw=1.4, label=series_names[0],
                 estimator=None, sort=False, zorder=2.2)
    ax.axhline(0, xmin=0.45 / 22, xmax=1, color="black", lw=1.3,
               linestyle=(0, (26, 5)), zorder=3)


# ---- Downward SW ----
draw_flux(ax1, (sw_glob_t, sw_glob_v), (sw_wpac_t, sw_wpac_v), (sw_epac_t, sw_epac_v))
style_flux(ax1, -30, 30, 10)
h, l = ax1.get_legend_handles_labels()
order = [l.index(n) for n in series_names]
ax1.legend([h[i] for i in order], [l[i] for i in order], ncol=3, loc="center",
           bbox_to_anchor=(0.694, 0.126), frameon=False, fontsize=21,
           handlelength=2.0, handletextpad=1.0, columnspacing=2.2)
ax1.text(0.132, 0.838, "Downward SW", transform=ax1.transAxes, fontsize=24,
         ha="center", va="baseline")
ax1.set_ylabel("Flux Anomaly (Wm$^{-2}$)", fontsize=22)
ax1.yaxis.label.set_verticalalignment("center")
ax1.yaxis.set_label_coords(-0.0745, 0.5)

# ---- Downward LW ----
draw_flux(ax2, (lw_glob_t, lw_glob_v), (lw_wpac_t, lw_wpac_v), (lw_epac_t, lw_epac_v))
style_flux(ax2, -15, 15, 5)
h, l = ax2.get_legend_handles_labels()
order = [l.index(n) for n in series_names]
ax2.legend([h[i] for i in order], [l[i] for i in order], ncol=3, loc="center",
           bbox_to_anchor=(0.292, 0.119), frameon=False, fontsize=21,
           handlelength=2.0, handletextpad=1.0, columnspacing=2.2)
ax2.text(0.841, 0.818, "Downward LW", transform=ax2.transAxes, fontsize=24,
         ha="center", va="baseline")
ax2.set_ylabel("Flux Anomaly (Wm$^{-2}$)", fontsize=22)
ax2.yaxis.label.set_verticalalignment("center")
ax2.yaxis.set_label_coords(-0.0785, 0.5)

# ---- ENSO index ----
mei = np.array(mei_values)
mei_t = mei_start_year + np.arange(len(mei)) / 12.0
ax3.set_facecolor("#cccccc")
ax3.set_xlim(mei_t[0], mei_t[-1] + 0.005)
ax3.set_ylim(-2, 4)
for yv in [-1, 1, 2, 3]:
    ax3.axhline(yv, color="#4a4a4a", lw=1.2, zorder=0.5)
ax3.fill_between(mei_t, mei, 0, where=mei >= 0, interpolate=True, color=C_POS, lw=0, zorder=2)
ax3.fill_between(mei_t, mei, 0, where=mei <= 0, interpolate=True, color=C_NEG, lw=0, zorder=2)
sns.lineplot(x=mei_t, y=mei, ax=ax3, color="#8a8a8a", lw=0.6, estimator=None, zorder=2.1)
ax3.axhline(0, color="#8a8a8a", lw=2.4, zorder=2.5)
ax3.set_xticks([])
ax3.set_xlabel("")
ax3.set_ylabel("")
ax3.set_yticks(list(range(-2, 5)))
ax3.tick_params(axis="y", left=True, direction="out", length=5, width=1.0, labelsize=8,
                pad=11, colors="black")
for side in ["top", "right", "bottom"]:
    ax3.spines[side].set_color("#808080")
    ax3.spines[side].set_linewidth(2.0)
ax3.spines["left"].set_color("black")
ax3.spines["left"].set_linewidth(1.5)

sec = ax3.secondary_xaxis(1 / 3)
sec.xaxis.set_major_locator(MultipleLocator(1 / 6))
sec.spines["bottom"].set_visible(False)
sec.tick_params(axis="x", direction="out", length=4, width=1.2, colors="black",
                labelbottom=False, labeltop=False)

trans = blended_transform_factory(ax3.transData, ax3.transAxes)
for yr in mei_label_years:
    ax3.text(yr - 0.14, -0.055, str(yr), transform=trans, ha="center", va="center",
             fontsize=8, color="black", clip_on=False)
fig.text(925 / W, 1 - 1140 / H, "Year", ha="center", va="center", fontsize=11,
         fontweight="bold")

fig.savefig("out.png", dpi=100)
